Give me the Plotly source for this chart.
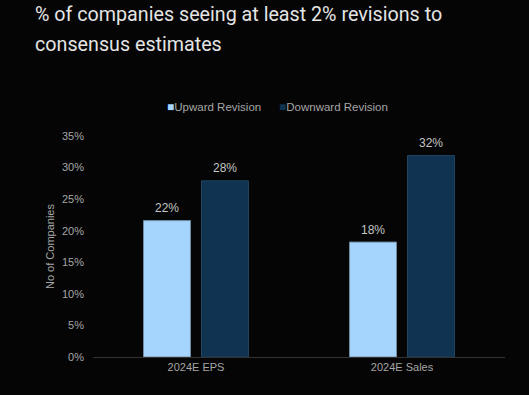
import plotly.graph_objects as go

categories = ["2024E EPS", "2024E Sales"]
upward = [21.6, 18.2]
downward = [27.9, 31.9]
series_names = ["Upward Revision", "Downward Revision"]
y_ticks = [0, 5, 10, 15, 20, 25, 30, 35]
title_lines = ["% of companies seeing at least 2% revisions to", "consensus estimates"]

UP_COLOR = "#a5d5fd"
DOWN_COLOR = "#0f3350"

# plot area in pixels
L, R, T, B = 93, 24, 136, 38
W, H = 529, 395
PW, PH = W - L - R, H - T - B

def px_x(x):
    return (x - L) / PW

def px_y(y):
    return 1 + (T - y) / PH

fig = go.Figure()
fig.add_trace(go.Bar(
    x=categories, y=upward, name=series_names[0],
    marker=dict(color=UP_COLOR, line=dict(color="#6f8aa3", width=1)),
    showlegend=False,
))
fig.add_trace(go.Bar(
    x=categories, y=downward, name=series_names[1],
    marker=dict(color=DOWN_COLOR, line=dict(color="#1e4563", width=1)),
    showlegend=False,
))

annotations = []
# value labels
for vals, shift in ((upward, -29), (downward, 29)):
    for c, v in zip(categories, vals):
        annotations.append(dict(
            x=c, y=v, xref="x", yref="y", text=f"{v:.0f}%", showarrow=False,
            xshift=shift, yshift=12.5, yanchor="middle",
            font=dict(family="Liberation Sans", size=12, color="#c4c4c4"),
        ))
# title lines
for line, ypx in zip(title_lines, (14.5, 44.5)):
    annotations.append(dict(
        x=px_x(33), y=px_y(ypx), xref="paper", yref="paper", text=line,
        showarrow=False, xanchor="left", yanchor="middle", align="left",
        font=dict(family="Roboto", size=19.7, color="#e4e4e4"),
    ))
# legend
for name, color, xpx in ((series_names[0], UP_COLOR, 165), (series_names[1], DOWN_COLOR, 277)):
    annotations.append(dict(
        x=px_x(xpx), y=px_y(107), xref="paper", yref="paper",
        text=f"<span style='font-size:12px;color:{color}'>■</span>{name}",
        showarrow=False, xanchor="left", yanchor="middle",
        font=dict(family="Liberation Sans", size=11.5, color="#a6a6a6"),
    ))

fig.update_layout(
    width=W, height=H,
    paper_bgcolor="#050505", plot_bgcolor="#050505",
    margin=dict(l=L, r=R, t=T, b=B),
    bargap=0.437, bargroupgap=0.19,
    showlegend=False,
    annotations=annotations,
    font=dict(family="Liberation Sans", color="#a6a6a6"),
)
fig.update_xaxes(
    showline=True, linecolor="#333333", linewidth=1,
    showgrid=False, zeroline=False, ticks="",
    tickfont=dict(family="Liberation Sans", size=11, color="#a6a6a6"),
)
fig.update_yaxes(
    range=[0, 35], tickmode="array", tickvals=y_ticks,
    ticktext=[f"{t}%" for t in y_ticks],
    showgrid=False, zeroline=False, showline=False,
    tickfont=dict(family="Liberation Sans", size=11, color="#a6a6a6"),
    title=dict(text="No of Companies", standoff=5,
               font=dict(family="Liberation Sans", size=11, color="#a6a6a6")),
    ticklabelstandoff=8,
)

fig.write_html("out.html", config={"displayModeBar": False},
               post_script="document.body.style.margin='0';")
